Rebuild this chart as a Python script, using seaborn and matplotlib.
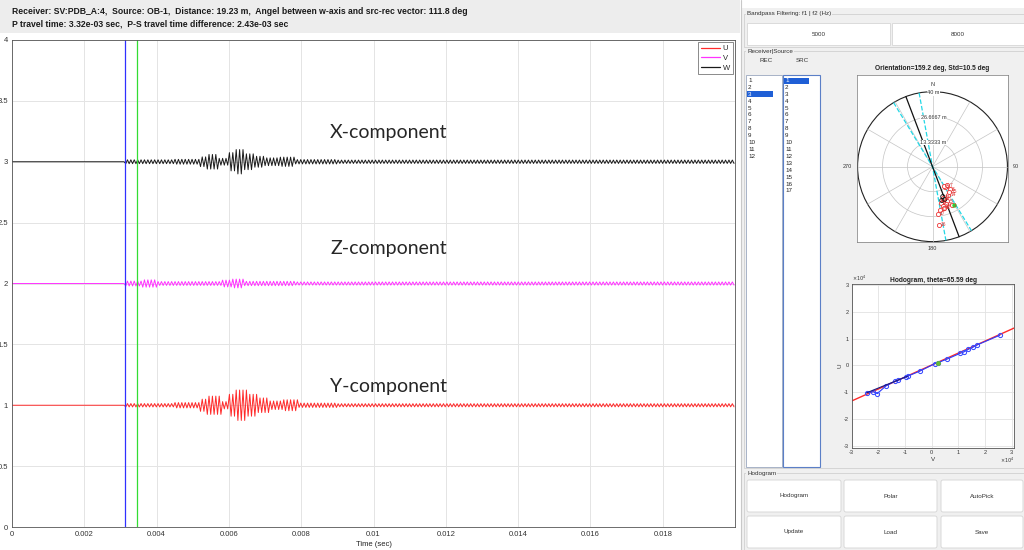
import numpy as np
import matplotlib
matplotlib.use('Agg')
import matplotlib.pyplot as plt
import seaborn as sns
from matplotlib.patches import Rectangle, FancyBboxPatch, Circle
from matplotlib.lines import Line2D

# ---- data ----
header_1 = "Receiver: SV:PDB_A:4,  Source: OB-1,  Distance: 19.23 m,  Angel between w-axis and src-rec vector: 111.8 deg"
header_2 = "P travel time: 3.32e-03 sec,  P-S travel time difference: 2.43e-03 sec"

p_pick = 0.00312
s_pick = 0.00346
onset = 0.0031
half_period = 0.000047
t_max = 0.0200

# envelope of each trace: amplitude held until the given segment end time
seg_end_u = [0.0045, 0.0052, 0.0054, 0.0058, 0.0060, 0.0062, 0.0065, 0.0068, 0.0071, 0.0075, 0.0079, 0.0090, 0.0200]
amp_u = [0.014, 0.022, 0.05, 0.075, 0.03, 0.09, 0.125, 0.09, 0.06, 0.035, 0.045, 0.018, 0.013]
seg_end_v = [0.0036, 0.0040, 0.0058, 0.0061, 0.0064, 0.0078, 0.0200]
amp_v = [0.02, 0.03, 0.016, 0.028, 0.036, 0.018, 0.013]
seg_end_w = [0.0045, 0.0052, 0.0054, 0.0057, 0.0060, 0.0062, 0.0064, 0.0067, 0.0070, 0.0074, 0.0078, 0.0090, 0.0200]
amp_w = [0.016, 0.02, 0.04, 0.06, 0.028, 0.075, 0.1, 0.065, 0.045, 0.032, 0.038, 0.018, 0.014]
trace_base = {'U': 1, 'V': 2, 'W': 3}
trace_color = {'U': '#ff2a2a', 'V': '#ff33ff', 'W': '#1a1a1a'}
comp_labels = ['X-component', 'Z-component', 'Y-component']
comp_y = [3.24, 2.29, 1.15]

bp_f1, bp_f2 = '5000', '8000'
rec_items = [str(i) for i in range(1, 13)]
src_items = [str(i) for i in range(1, 18)]
rec_sel, src_sel = 3, 1

orient_deg = 159.2
std_deg = 10.5
ring_r = [13.3333, 26.6667, 40]
ring_lbl = ['13.3333 m', '26.6667 m', '40 m']
src_e = [10.5, 6.5, 9.5, 5.5, 8.0, 6.0, 8.0, 4.5, 7.0, 5.5, 6.0, 4.0, 5.5, 8.5, 9.0, 3.5, 3.0]
src_n = [-20.5, -11.0, -12.0, -17.0, -18.5, -10.5, -10.0, -19.5, -20.0, -21.0, -22.0, -23.0, -16.5, -15.0, -13.5, -31.0, -25.0]
blk_e = [5.5, 6.5, 5.0]
blk_n = [-16.0, -17.5, -18.0]
grn_e, grn_n = [11.5], [-20.5]

hodo_v = [-2.44, -2.2, -2.04, -1.7, -1.38, -1.25, -0.98, -0.9, -0.44, 0.12, 0.22, 0.56, 1.06, 1.2, 1.37, 1.55, 1.69, 2.56]
hodo_u = [-1.02, -0.98, -1.05, -0.75, -0.59, -0.55, -0.42, -0.40, -0.21, 0.07, 0.10, 0.23, 0.45, 0.50, 0.60, 0.68, 0.76, 1.13]
fit_v = [-3.1, 3.1]
fit_u = [-1.37, 1.40]

buttons = ['Hodogram', 'Polar', 'AutoPick', 'Update', 'Load', 'Save']

sns.set_theme(style='white')
plt.rcParams['font.family'] = ['Liberation Sans', 'DejaVu Sans']
plt.rcParams['axes.unicode_minus'] = False

fig = plt.figure(figsize=(10.24, 5.5), dpi=100)


def box(x0, y0, x1, y1):
    return [x0 / 1024, 1 - y1 / 550, (x1 - x0) / 1024, (y1 - y0) / 550]


def zigzag(seg_end, amps, base):
    n = int((t_max - onset) / half_period)
    k = np.arange(n + 1)
    tt = onset + half_period * k
    idx = np.searchsorted(seg_end, tt).clip(max=len(amps) - 1)
    yy = base + np.array(amps)[idx] * np.where(k % 2 == 0, 1, -1)
    yy[0] = base
    return np.concatenate([[0], tt]), np.concatenate([[base], yy])


# ---- background / GUI panel ----
bg = fig.add_axes([0, 0, 1, 1])
bg.set_xlim(0, 1024)
bg.set_ylim(550, 0)
bg.axis('off')
bg.add_patch(Rectangle((0, 0), 740, 33, color='#ededed', lw=0))
bg.add_patch(Rectangle((741, 8), 283, 542, color='#f0f0f0', lw=0))
bg.plot([740.5, 740.5], [0, 550], color='#c8c8c8', lw=0.8)
bg.text(12, 11, header_1, fontsize=6.2, fontweight='bold', va='center', color='#1a1a1a')
bg.text(12, 24, header_2, fontsize=6.2, fontweight='bold', va='center', color='#1a1a1a')

gui = dict(fontsize=4.5, color='#333')
# group frames
for y0, y1, ttl in [(14, 47, 'Bandpass Filtering: f1 | f2 (Hz)'), (51, 468, 'Receiver|Source'),
                    (473, 550, 'Hodogram')]:
    bg.add_patch(Rectangle((744, y0), 282, y1 - y0, fill=False, ec='#d0d0d0', lw=0.6))
    bg.text(747, y0, ttl, va='center', bbox=dict(fc='#f0f0f0', ec='none', pad=0.5), **gui)

for x0, x1, s in [(747, 890, bp_f1), (892, 1024, bp_f2)]:
    bg.add_patch(Rectangle((x0, 23), x1 - x0, 22, fc='white', ec='#d6d6d6', lw=0.6))
    bg.text((x0 + x1) / 2, 34, s, ha='center', va='center', **gui)

bg.text(766, 60, 'REC', ha='center', va='center', **gui)
bg.text(802, 60, 'SRC', ha='center', va='center', **gui)
bg.add_patch(Rectangle((746, 75), 36, 392, fc='white', ec='#9aa8c0', lw=0.6))
bg.add_patch(Rectangle((783, 75), 37, 392, fc='white', ec='#5b7fc7', lw=0.8))
for i, s in enumerate(rec_items):
    y = 80.5 + i * 6.9
    if i + 1 == rec_sel:
        bg.add_patch(Rectangle((747, y - 3), 26, 6, color='#1f5fd6', lw=0))
    bg.text(748, y, s, va='center', fontsize=4.5, color='white' if i + 1 == rec_sel else '#222')
for i, s in enumerate(src_items):
    y = 80.5 + i * 6.9
    if i + 1 == src_sel:
        bg.add_patch(Rectangle((784, y - 3), 25, 6, color='#1f5fd6', lw=0))
    bg.text(785, y, s, va='center', fontsize=4.5, color='white' if i + 1 == src_sel else '#222')

cols = [(747, 841), (844, 937), (941, 1023)]
rows = [(480, 512), (516, 548)]
for j, name in enumerate(buttons):
    (x0, x1), (y0, y1) = cols[j % 3], rows[j // 3]
    bg.add_patch(FancyBboxPatch((x0, y0), x1 - x0, y1 - y0, boxstyle='round,pad=0,rounding_size=2',
                                fc='white', ec='#d4d4d4', lw=0.6))
    bg.text((x0 + x1) / 2, (y0 + y1) / 2, name, ha='center', va='center', **gui)

# ---- main waveform axes ----
ax = fig.add_axes(box(12, 40, 735, 527))
ax.set_facecolor('white')
for name, seg_end, amps in [('U', seg_end_u, amp_u), ('V', seg_end_v, amp_v), ('W', seg_end_w, amp_w)]:
    t, y = zigzag(seg_end, amps, trace_base[name])
    sns.lineplot(x=t, y=y, ax=ax, color=trace_color[name], linewidth=0.7,
                 sort=False, estimator=None)
ax.axvline(p_pick, color='#3030ff', lw=0.9)
ax.axvline(s_pick, color='#33dd33', lw=0.9)
for s, yy in zip(comp_labels, comp_y):
    ax.text(0.0088, yy, s, fontsize=14, family=['Lato', 'DejaVu Sans'], va='center')
ax.set_xlim(0, 0.02)
ax.set_ylim(0, 4)
ax.set_xticks(np.arange(0, 0.0181, 0.002))
ax.set_xticklabels(['0'] + [f'{v:g}' for v in np.arange(0.002, 0.0181, 0.002)])
ax.set_yticks(np.arange(0, 4.01, 0.5))
ax.set_yticklabels([f'{v:g}' for v in np.arange(0, 4.01, 0.5)])
ax.grid(True, color='#e4e4e4', lw=0.7)
ax.tick_params(direction='in', length=3, width=0.5, labelsize=5.5, colors='#333', pad=3)
ax.set_xlabel('Time (sec)', fontsize=5.5, color='#222', labelpad=2)
for sp in ax.spines.values():
    sp.set_color('#555')
    sp.set_linewidth(0.6)
handles = [Line2D([], [], color=trace_color[n], lw=0.9) for n in ['U', 'V', 'W']]
leg = ax.legend(handles, ['U', 'V', 'W'], loc='upper right', fontsize=5.5, frameon=True, fancybox=False,
                handlelength=2.6, borderpad=0.35, labelspacing=0.3, handletextpad=0.3, borderaxespad=0.3)
leg.get_frame().set_edgecolor('#555')
leg.get_frame().set_linewidth(0.6)

# ---- polar orientation plot ----
pa = fig.add_axes(box(857, 75, 1008, 242))
pa.set_facecolor('white')
pa.set_xlim(-40.3, 40.3)
pa.set_ylim(-40.2, 48.9)
pa.set_xticks([])
pa.set_yticks([])
for sp in pa.spines.values():
    sp.set_color('#777')
    sp.set_linewidth(0.5)
for az in range(0, 360, 30):
    a = np.radians(az)
    pa.plot([0, 40 * np.sin(a)], [0, 40 * np.cos(a)], color='#c4c4c4', lw=0.5)
for r in ring_r[:-1]:
    pa.add_patch(Circle((0, 0), r, fill=False, ec='#c4c4c4', lw=0.5))
pa.add_patch(Circle((0, 0), ring_r[-1], fill=False, ec='#222', lw=0.8))
for r, s in zip(ring_r, ring_lbl):
    pa.text(0.5, r - 0.5, s, fontsize=4, ha='center', va='center', color='#333',
            bbox=dict(fc='white', ec='none', pad=0.3))
pa.text(0, 43.7, 'N', fontsize=4, ha='center', va='center', color='#333')
pa.text(44.5, 0, '90', fontsize=4, ha='center', va='center', color='#333', clip_on=False)
pa.text(-45.5, 0, '270', fontsize=4, ha='center', va='center', color='#333', clip_on=False)
pa.text(0, -43.5, '180', fontsize=4, ha='center', va='center', color='#333', clip_on=False)
for az, c, ls in [(orient_deg - std_deg, '#22d8e6', '--'), (orient_deg + std_deg, '#22d8e6', '--'),
                  (orient_deg, '#111', '-')]:
    a = np.radians(az)
    pa.plot([-40 * np.sin(a), 40 * np.sin(a)], [-40 * np.cos(a), 40 * np.cos(a)], color=c, ls=ls, lw=0.9)
sns.scatterplot(x=src_e, y=src_n, ax=pa, marker='o', s=9, facecolor='white', edgecolor='#ee3333',
                linewidth=0.6, zorder=4)
sns.scatterplot(x=blk_e, y=blk_n, ax=pa, marker='o', s=9, facecolor='none', edgecolor='#111',
                linewidth=0.6, zorder=5)
sns.scatterplot(x=grn_e, y=grn_n, ax=pa, marker='o', s=10, color='#33cc33', linewidth=0, zorder=5)
for i, (e, n) in enumerate(zip(src_e, src_n)):
    pa.text(e + 1.0, n, str(i + 1), fontsize=3.5, color='#dd3333', va='center', zorder=6)
pa.text(0.5, 1.02, f'Orientation={orient_deg} deg, Std={std_deg} deg', transform=pa.transAxes,
        ha='center', va='bottom', fontsize=4.8, fontweight='bold', color='#222')

# ---- hodogram ----
ha = fig.add_axes(box(851.7, 284.3, 1014.3, 447.7))
ha.set_facecolor('white')
sns.lineplot(x=fit_v, y=fit_u, ax=ha, color='#ff2a2a', lw=1.0)
sns.lineplot(x=hodo_v, y=hodo_u, ax=ha, color='#2a3cff', lw=0.8, sort=False, estimator=None,
             marker='o', markersize=3, markerfacecolor='none', markeredgecolor='#3a4cff')
sns.lineplot(x=[hodo_v[0], hodo_v[7]], y=[hodo_u[0], hodo_u[7]], ax=ha, color='#1a1a80', lw=0.8)
ha.plot([0.25], [0.1], 'o', ms=2.5, color='#66bb33')
ha.set_xlim(-3, 3.1)
ha.set_ylim(-3.07, 3.03)
ha.set_xticks(range(-3, 4))
ha.set_yticks(range(-3, 4))
ha.grid(True, color='#e2e2e2', lw=0.6)
ha.tick_params(direction='in', length=2, width=0.4, labelsize=4, colors='#333', pad=2)
ha.set_xlabel('V', fontsize=4.5, color='#333', labelpad=1)
ha.set_ylabel('U', fontsize=4.5, color='#333', labelpad=1)
for sp in ha.spines.values():
    sp.set_color('#555')
    sp.set_linewidth(0.6)
ha.text(0, 1.01, r'$\times10^4$', transform=ha.transAxes, fontsize=3.5, color='#333', va='bottom')
ha.text(1.0, -0.09, r'$\times10^4$', transform=ha.transAxes, fontsize=3.5, color='#333', ha='right')
ha.set_title('Hodogram, theta=65.59 deg', fontsize=4.8, fontweight='bold', color='#222', pad=2)

fig.savefig('out.png', dpi=100)
